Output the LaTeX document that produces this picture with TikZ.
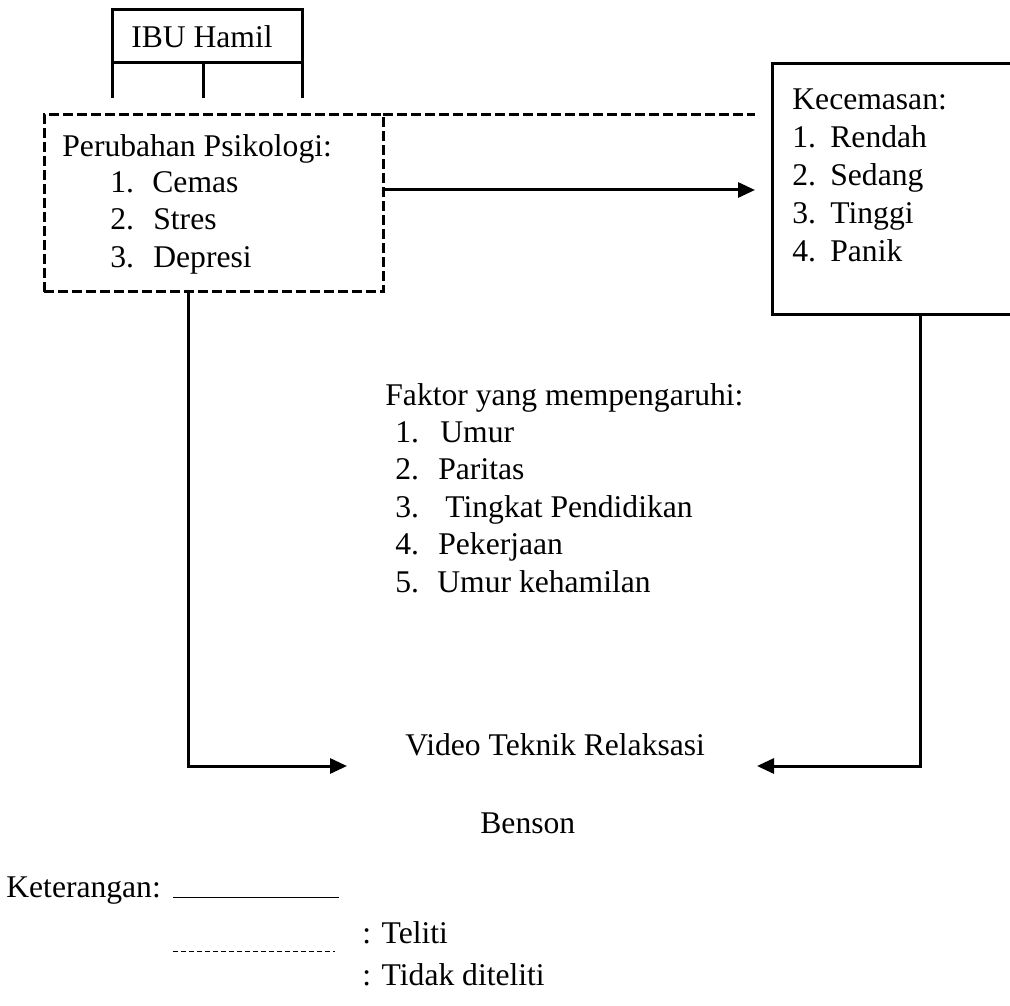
\documentclass[tikz,border=0pt]{standalone}
\usepackage{fontspec}
\setmainfont{Liberation Serif}
\usetikzlibrary{arrows.meta}
\newcommand{\nitem}[3]{\makebox[#1][l]{#2}#3}

\begin{document}
\begin{tikzpicture}[
  x=0.5pt, y=-0.5pt,
  font=\fontsize{15.8}{19}\selectfont,
  txt/.style={inner sep=0pt, anchor=base west},
  box/.style={draw, line width=1.5pt, inner sep=0pt, outer sep=0pt},
  dbox/.style={box, dash pattern=on 5pt off 2pt},
  link/.style={line width=1.5pt},
  dlink/.style={link, dash pattern=on 5pt off 2pt},
  arr/.style={link, -{Triangle[length=8.5pt,width=7.5pt]}},
  legline/.style={line width=0.5pt},
]
\clip (0,0) rectangle (1010,1005);

% --- Ibu hamil ---
\node[box, minimum width=95pt, minimum height=26.5pt] (ibu) at (207,36.5) {\hspace*{-5pt}IBU Hamil};
\draw[link] (ibu.south west) -- ++(0,35);
\draw[link] ([xshift=-2pt]ibu.south) -- ++(0,35);
\draw[link] (ibu.south east) -- ++(0,35);

% --- Perubahan psikologi (dashed) ---
\node[dbox, minimum width=169.5pt, minimum height=88.5pt] (psiko) at (213.5,203.5) {};
\node[txt] (psikotitle) at (62,157) {Perubahan Psikologi:};
\node[txt] (cemas) at (110,193) {\nitem{21pt}{1.}{Cemas}};
\node[txt] (stres) at (110,230) {\nitem{21.5pt}{2.}{Stres}};
\node[txt] (depresi) at (110,268) {\nitem{21.5pt}{3.}{Depresi}};

% --- Kecemasan ---
\node[box, minimum width=121.5pt, minimum height=125pt] (kcm) at (893.5,189) {};
\node[txt] (kcmtitle) at (792,110) {Kecemasan:};
\node[txt] (rendah) at (792,148) {\nitem{19pt}{1.}{Rendah}};
\node[txt] (sedang) at (792,186) {\nitem{19pt}{2.}{Sedang}};
\node[txt] (tinggi) at (792,224) {\nitem{19pt}{3.}{Tinggi}};
\node[txt] (panik) at (792,262) {\nitem{19pt}{4.}{Panik}};

\coordinate (dend) at (755,115);
\coordinate (aend) at (755,190);
\draw[dlink] (psiko.north east) -- (dend);
\draw[arr] (psiko.east |- aend) -- (aend);

% --- Faktor ---
\node[txt] (faktor) at (385,405) {Faktor yang mempengaruhi:};
\node[txt] (umur) at (395,442) {\nitem{22.5pt}{1.}{Umur}};
\node[txt] (paritas) at (395,479) {\nitem{21.5pt}{2.}{Paritas}};
\node[txt] (didik) at (395,517) {\nitem{25pt}{3.}{Tingkat Pendidikan}};
\node[txt] (kerja) at (395,554) {\nitem{21.5pt}{4.}{Pekerjaan}};
\node[txt] (hamil) at (395,592) {\nitem{21pt}{5.}{Umur kehamilan}};

% --- Video ---
\node[txt] (video) at (405,755) {Video Teknik Relaksasi};
\node[txt] (benson) at (480,833) {Benson};
\coordinate (vl) at (347,766);
\coordinate (vr) at (757,766);
\draw[arr] ([xshift=72pt]psiko.south west) |- (vl);
\draw[arr] ([xshift=13.25pt]kcm.south) |- (vr);

% --- Keterangan ---
\node[txt] (ket) at (6,897) {Keterangan:};
\node[txt] (teliti) at (362,943) {: Teliti};
\node[txt] (tidak) at (362,985) {: Tidak diteliti};
\draw[legline] (173,897) -- (339,897);
\draw[legline, dash pattern=on 2.5pt off 1.5pt] (173,951) -- (335,951);
\end{tikzpicture}
\end{document}
